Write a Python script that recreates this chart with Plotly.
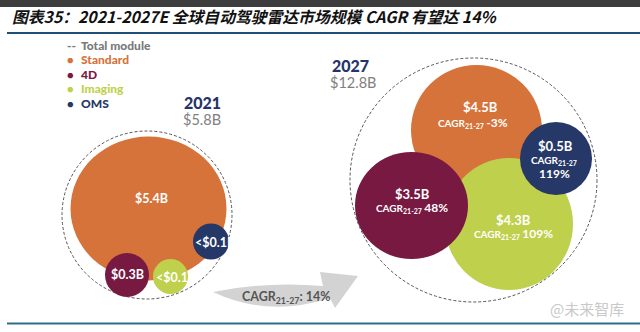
import plotly.graph_objects as go

# ---- data ----
segments = ["Standard", "4D", "Imaging", "OMS"]
value_2021 = ["$5.4B", "$0.3B", "<$0.1B", "<$0.1B"]
value_2027 = ["$4.5B", "$3.5B", "$4.3B", "$0.5B"]
cagr_21_27 = ["-3%", "48%", "109%", "119%"]
years = ["2021", "2027"]
totals = ["$5.8B", "$12.8B"]
total_cagr = "14%"
title_text = "图表35：2021-2027E 全球自动驾驶雷达市场规模 CAGR 有望达 14%"

# ---- styles / layout (pixel space) ----
colors = {"Standard": "#D6733A", "4D": "#771941", "Imaging": "#BFD04C", "OMS": "#263867"}
FONT = "Lato"
W, H = 640, 332

# circle geometry: (cx, cy, rx, ry)
geo_2021 = {"Total": (147, 215, 85, 84),
            "Standard": (148.5, 208.5, 78, 72),
            "4D": (127, 275, 22, 22),
            "Imaging": (170.5, 276.5, 17.5, 17.5),
            "OMS": (211, 241.5, 18, 18)}
geo_2027 = {"Total": (473.5, 180, 123.5, 122),
            "Standard": (476.5, 130, 65.5, 65),
            "4D": (411.5, 205.5, 56.5, 53.5),
            "Imaging": (509, 224, 64, 66),
            "OMS": (556, 158.5, 36, 36.5)}
order_2021 = ["Standard", "4D", "Imaging", "OMS"]
order_2027 = ["Standard", "Imaging", "4D", "OMS"]

fig = go.Figure()
shapes = []
ann = []


def circle(cx, cy, rx, ry, fill=None, line=None, dash=None):
    d = dict(type="circle", xref="x", yref="y",
             x0=cx - rx, x1=cx + rx, y0=cy - ry, y1=cy + ry)
    if fill:
        d["fillcolor"] = fill
        d["line"] = dict(width=0)
    else:
        d["line"] = dict(color=line, width=1, dash=dash)
    return d


# header bar and rules
shapes.append(dict(type="rect", xref="x", yref="y", x0=0, x1=W, y0=0, y1=7,
                   fillcolor="#3d3d3d", line=dict(width=0)))
shapes.append(dict(type="line", xref="x", yref="y", x0=7, x1=W, y0=33, y1=33,
                   line=dict(color="#1F4E79", width=2)))
shapes.append(dict(type="line", xref="x", yref="y", x0=7, x1=W, y0=323.5, y1=323.5,
                   line=dict(color="#2E6C8C", width=2)))

# arrow
shapes.append(dict(type="path", xref="x", yref="y",
                   path="M 213,292 Q 268,281 323,286 L 320,272 L 358,276 L 335,308 "
                        "L 330,298 Q 268,318 213,292 Z",
                   fillcolor="#D3D3D3", line=dict(width=0)))

# 2021 circles
t = geo_2021["Total"]
shapes.append(circle(*t, line="#555555", dash="3px,2px"))
for s in order_2021:
    shapes.append(circle(*geo_2021[s], fill=colors[s]))

# 2027 circles
t = geo_2027["Total"]
shapes.append(circle(*t, line="#555555", dash="3px,2px"))
for s in order_2027:
    shapes.append(circle(*geo_2027[s], fill=colors[s]))


def text(x, y, s, size, color, xanchor="center", bold=True, family=FONT, weight=None):
    w = weight if weight else ("bold" if bold else "normal")
    ann.append(dict(x=x, y=y, xref="x", yref="y", text=s, showarrow=False,
                    xanchor=xanchor, yanchor="middle",
                    font=dict(family=family, size=size, color=color, weight=w)))


# title
ann.append(dict(x=10, y=16.5, xref="x", yref="y", text=title_text, showarrow=False,
                xanchor="left", yanchor="middle",
                font=dict(family="Noto Sans CJK SC", size=15.8, color="#111111",
                          style="italic", weight="bold")))

# legend
text(65, 45, "--", 12, "#7a7a7a", xanchor="left", weight=900)
text(79, 45, "Total module", 12, "#7a7a7a", xanchor="left", weight=900)
for i, s in enumerate(segments):
    y = 59.5 + i * 14.5
    text(70.5, y, "●", 11, colors[s])
    text(79, y, s, 12, colors[s], xanchor="left", weight=900)

# year headers
text(223, 102, years[0], 16, "#253468", xanchor="right", weight=900)
text(223, 119, totals[0], 14.5, "#808080", xanchor="right", bold=False)
text(330, 65, years[1], 16, "#253468", xanchor="left", weight=900)
text(328, 82, totals[1], 14.5, "#808080", xanchor="left", bold=False)

# 2021 labels
i_std, i_4d, i_img, i_oms = 0, 1, 2, 3
text(151, 198, value_2021[i_std], 12.5, "white")
text(127, 274.5, value_2021[i_4d], 12.5, "white")
text(154, 277, value_2021[i_img], 12.5, "white", xanchor="left")
text(193, 242, value_2021[i_oms], 12.5, "white", xanchor="left")


def cagr_label(v, size=10):
    return ("CAGR<sub>21-27</sub> <span style='font-size:%dpx'>%s</span>" % (size + 2, v))


# 2027 labels
text(480, 107, value_2027[i_std], 13, "white")
text(473, 122, cagr_label(cagr_21_27[i_std]), 10, "white")
text(412, 194, value_2027[i_4d], 13, "white")
text(412, 207.5, cagr_label(cagr_21_27[i_4d]), 10, "white")
text(513, 220, value_2027[i_img], 13, "white")
text(513, 233.5, cagr_label(cagr_21_27[i_img]), 10, "white")
text(555, 146, value_2027[i_oms], 13, "white")
text(554, 160, "CAGR<sub>21-27</sub>", 10, "white")
text(554, 173, cagr_21_27[i_oms], 12, "white")

# arrow label
text(286, 297, "CAGR<sub>21-27</sub>: " + total_cagr, 12.5, "#555555")

# watermark
text(626, 308, "@未来智库", 15, "#c9c9c9", xanchor="right", bold=False,
     family="Noto Sans CJK SC")

fig.update_layout(
    width=W, height=H,
    margin=dict(l=0, r=0, t=0, b=0),
    paper_bgcolor="white", plot_bgcolor="white",
    xaxis=dict(range=[0, W], visible=False, fixedrange=True),
    yaxis=dict(range=[H, 0], visible=False, fixedrange=True),
    shapes=shapes, annotations=ann, showlegend=False,
)

fig.write_html("out.html")
